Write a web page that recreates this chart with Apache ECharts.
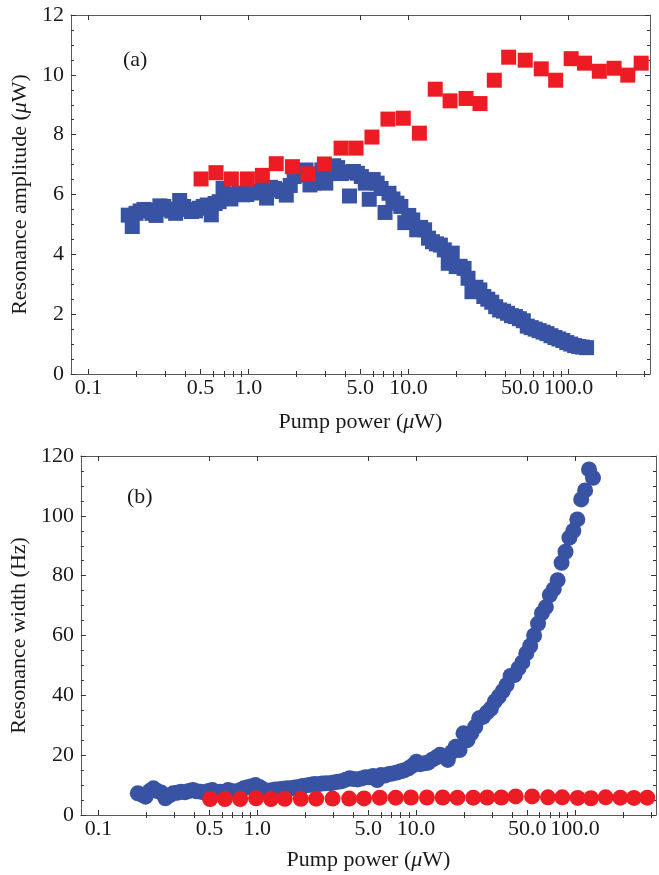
<!DOCTYPE html>
<html><head><meta charset="utf-8">
<script src="https://cdn.jsdelivr.net/npm/echarts@6/dist/echarts.min.js"></script>
<style>html,body{margin:0;padding:0;background:#fff}#c{width:659px;height:875px}</style>
</head><body><div id="c"></div>
<script>
// ---- data ----
const bluePower = [0.177,0.1875,0.198,0.210,0.222,0.235,0.249,0.264,0.279,0.295,
0.313,0.331,0.350,0.371,0.393,0.415,0.440,0.466,0.493,0.521,
0.552,0.585,0.618,0.655,0.693,0.733,0.776,0.822,0.871,0.921,
0.975,1.032,1.092,1.157,1.224,1.296,1.372,1.452,1.537,1.627,
1.722,1.823,1.929,2.042,2.162,2.288,2.422,2.564,2.714,2.873,
3.041,3.219,3.407,3.607,3.818,4.041,4.278,4.528,4.793,5.074,
5.370,5.685,6.018,6.370,6.743,7.137,7.555,7.998,8.466,8.961,
9.485,10.04,10.63,11.25,11.91,12.61,13.34,14.13,14.95,15.83,
16.75,17.73,18.77,19.87,21.03,22.26,23.57,24.94,26.40,27.95,
29.58,31.32,33.15,35.09,37.14,39.32,41.62,44.05,46.63,49.36,
52.24,55.30,58.54,61.96,65.59,69.43,73.49,77.79,82.34,87.16,
92.26,97.66,103.4,109.4,115.8,122.6,129.8];
const blueAmplitude = [5.31,4.93,5.37,5.45,5.5,5.48,5.37,5.3,5.62,5.6,
5.51,5.45,5.37,5.8,5.6,5.5,5.43,5.45,5.54,5.6,
5.65,5.32,5.7,5.76,6.21,6.0,5.85,6.0,6.05,5.99,
6.0,6.1,6.05,6.1,6.21,5.88,6.24,6.2,6.15,6.1,
5.98,6.3,6.6,6.65,6.7,6.82,6.32,6.38,6.6,6.82,
6.38,6.7,6.96,6.9,6.7,6.75,5.95,6.77,6.71,6.6,
6.38,5.84,6.5,6.38,6.2,5.4,6.04,5.85,5.71,5.6,
5.06,5.3,5.15,4.82,4.9,4.82,4.54,4.42,4.35,4.31,
4.15,3.70,4.04,3.59,3.6,3.53,3.2,2.75,2.9,2.81,
2.59,2.5,2.4,2.25,2.14,2.1,2.03,1.95,1.92,1.85,
1.78,1.6,1.55,1.5,1.45,1.4,1.35,1.28,1.22,1.17,
1.12,1.05,1.0,0.95,0.92,0.9,0.88];
const blueWidth = [7.25,6.8,6.12,8.0,8.9,8.0,7.5,5.57,6.5,7.25,
7.4,7.8,7.6,8.0,8.36,7.9,7.8,7.5,8.0,8.36,
7.2,7.8,7.7,8.36,8.0,7.8,8.3,8.9,9.3,9.6,
10.0,9.4,8.5,8.1,8.3,8.5,8.6,8.8,8.9,8.9,
9.2,9.4,9.7,9.9,10.1,10.4,10.3,10.5,10.6,10.6,
10.9,11.1,11.3,11.8,12.3,12.0,11.9,12.2,12.6,12.6,
13.0,11.7,13.4,13.2,13.7,13.9,14.2,14.6,15.0,15.6,
16.5,17.8,17.0,17.3,17.5,18.5,19.2,20.1,19.5,18.4,
21.0,22.8,21.7,27.3,25.0,27.3,29.5,32.3,32.8,34.3,
35.6,38.0,39.6,41.4,43.5,46.5,46.8,49.0,51.0,54.0,
56.5,60.0,64.0,67.5,69.5,73.5,75.5,78.5,84.3,88.0,
92.7,95.0,98.8,105.5,108.5,115.5,112.7];
const redPower = [0.505,0.626,0.781,0.983,1.22,1.49,1.88,2.35,2.98,3.79,
4.70,5.91,7.44,9.28,11.7,14.7,18.2,22.9,28.0,34.4,
42.3,53.7,67.6,83.2,104,126,156,193,235,285];
const redAmplitude = [6.52,6.73,6.52,6.52,6.64,7.03,6.93,6.69,7.02,7.55,
7.55,7.92,8.52,8.55,8.05,9.52,9.13,9.21,9.04,9.82,
10.59,10.49,10.2,9.82,10.54,10.39,10.12,10.22,9.99,10.39];
const redWidth = [5.35,5.35,5.35,5.6,5.35,5.4,5.4,5.45,5.5,5.5,
5.55,5.8,5.8,5.85,5.85,5.85,5.8,5.8,5.85,5.85,
6.2,6.2,5.9,5.9,5.7,5.6,5.9,5.8,5.7,5.8];
const xMajorTicks = [0.1,0.5,1,5,10,50,100];
const xMajorLabels = ['0.1','0.5','1.0','5.0','10.0','50.0','100.0'];
const xMinorTicks = [0.2,0.3,0.4,0.6,0.7,0.8,0.9,2,3,4,6,7,8,9,20,30,40,60,70,80,90,200,300];

// ---- chart ----
const FONT = "'Liberation Serif','Times New Roman',serif";
const FS = 22;
const FRAME = '#5a5a5a';
const TXT = '#1a1a1a';
const BLUE = '#3953a4';
const RED = '#ed1c24';
const LX = v => Math.log10(v);
const X_MIN = -1.11, X_MAX = 2.51;
const majorLog = xMajorTicks.map(LX);
const minorLog = xMinorTicks.map(LX);
const muRich = { mu: { fontStyle: 'italic', fontFamily: FONT, fontSize: FS, color: TXT } };

function xLabel(v) {
  let best = 0, d = Infinity;
  majorLog.forEach((m, i) => { const e = Math.abs(m - v); if (e < d) { d = e; best = i; } });
  return xMajorLabels[best];
}
function xAxes(g, gap) {
  const base = { type: 'value', gridIndex: g, min: X_MIN, max: X_MAX, splitLine: { show: false },
    axisLine: { show: true, onZero: false, lineStyle: { color: FRAME, width: 1 } } };
  const tick = (vals, len) => ({ show: true, inside: true, length: len, customValues: vals, lineStyle: { color: '#333', width: 1 } });
  return [
    Object.assign({}, base, { position: 'bottom', axisTick: tick(majorLog, 5),
      axisLabel: { show: true, customValues: majorLog, formatter: xLabel, fontFamily: FONT, fontSize: FS, color: TXT, margin: 3 },
      name: 'Pump power ({mu|μ}W)', nameLocation: 'middle', nameGap: gap,
      nameTextStyle: { fontFamily: FONT, fontSize: FS, color: TXT, rich: muRich } }),
    Object.assign({}, base, { position: 'bottom', axisLine: { show: false }, axisTick: tick(minorLog, 3), axisLabel: { show: false } }),
    Object.assign({}, base, { position: 'top', axisTick: tick(majorLog, 5), axisLabel: { show: false } }),
    Object.assign({}, base, { position: 'top', axisLine: { show: false }, axisTick: tick(minorLog, 3), axisLabel: { show: false } })
  ];
}
function yAxes(g, max, interval, name, gap) {
  const base = { type: 'value', gridIndex: g, min: 0, max: max, interval: interval, splitLine: { show: false },
    axisLine: { show: true, onZero: false, lineStyle: { color: FRAME, width: 1 } },
    axisTick: { show: true, inside: true, length: 5, lineStyle: { color: '#333' } },
    minorTick: { show: true, splitNumber: 4, length: 3, lineStyle: { color: '#333' } } };
  return [
    Object.assign({}, base, { position: 'left',
      axisLabel: { show: true, fontFamily: FONT, fontSize: FS, color: TXT, margin: 7 },
      name: name, nameLocation: 'middle', nameGap: gap,
      nameTextStyle: { fontFamily: FONT, fontSize: FS, color: TXT, rich: muRich } }),
    Object.assign({}, base, { position: 'right', axisLabel: { show: false } })
  ];
}
function pts(xs, ys) { return xs.map((x, i) => [LX(x), ys[i]]); }
function sc(xi, yi, data, color, sym, size) {
  return { type: 'scatter', xAxisIndex: xi, yAxisIndex: yi, data: data, symbol: sym, symbolSize: size,
    itemStyle: { color: color, opacity: 1 }, emphasis: { disabled: true }, silent: true };
}

const chart = echarts.init(document.getElementById('c'), null, { renderer: 'canvas' });
chart.setOption({
  animation: false,
  backgroundColor: '#fff',
  grid: [
    { left: 71, top: 15, width: 579, height: 359, containLabel: false },
    { left: 76, top: 456, width: 580, height: 359, containLabel: false }
  ],
  xAxis: xAxes(0, 37).concat(xAxes(1, 34)),
  yAxis: yAxes(0, 12, 2, 'Resonance amplitude ({mu|μ}W)', 29).concat(yAxes(1, 120, 20, 'Resonance width (Hz)', 40)),
  series: [
    sc(0, 0, pts(bluePower, blueAmplitude), BLUE, 'rect', 15),
    sc(0, 0, pts(redPower, redAmplitude), RED, 'rect', 15),
    sc(4, 2, pts(bluePower, blueWidth), BLUE, 'circle', 16),
    sc(4, 2, pts(redPower, redWidth), RED, 'circle', 16)
  ],
  graphic: [
    { type: 'text', left: 123, top: 49, style: { text: '(a)', font: FS + 'px ' + FONT, fill: TXT } },
    { type: 'text', left: 127, top: 486, style: { text: '(b)', font: FS + 'px ' + FONT, fill: TXT } }
  ]
});
</script></body></html>
